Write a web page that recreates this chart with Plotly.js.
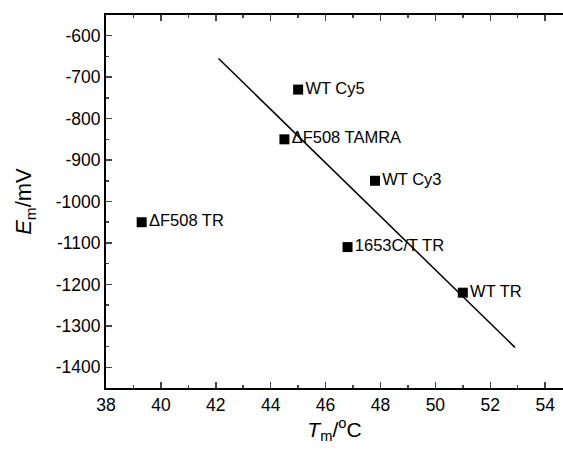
<!DOCTYPE html>
<html>
<head>
<meta charset="utf-8">
<script src="https://cdn.plot.ly/plotly-3.0.1.min.js"></script>
<style>html,body{margin:0;padding:0;background:#fff;}#chart{width:563px;height:450px;}</style>
</head>
<body>
<div id="chart"></div>
<script>
const labels = ["WT Cy5", "\u0394F508 TAMRA", "WT Cy3", "\u0394F508 TR", "1653C/T TR", "WT TR"];
const tm = [45.0, 44.5, 47.8, 39.3, 46.8, 51.0];
const em = [-730, -850, -950, -1050, -1110, -1220];
const fitX = [42.1, 52.9];
const fitY = [-655, -1352];
const xTicks = [38, 40, 42, 44, 46, 48, 50, 52, 54];
const yTicks = [-600, -700, -800, -900, -1000, -1100, -1200, -1300, -1400];
const yTickText = ["-600", "-700", "-800", "-900", "-1000", "-1100", "-1200", "-1300", "-1400"];

const font = {family: "Liberation Sans, Arial, sans-serif", color: "#000"};

const traces = [
  {x: fitX, y: fitY, mode: "lines", line: {color: "#000", width: 1.5}, hoverinfo: "skip"},
  {x: tm, y: em, mode: "markers+text", text: labels, textposition: "middle right",
   textfont: {family: font.family, size: 16.5, color: "#000"},
   marker: {symbol: "square", size: 10, color: "#000"}}
];

const layout = {
  width: 563, height: 450,
  margin: {l: 106, r: 0, t: 15, b: 62},
  showlegend: false,
  paper_bgcolor: "#fff", plot_bgcolor: "#fff",
  font: font,
  xaxis: {
    range: [38, 54.65], tickvals: xTicks, ticks: "inside", ticklen: 6, tickwidth: 1.5,
    minor: {dtick: 1, ticks: "inside", ticklen: 3, tickwidth: 1.5},
    showline: true, linewidth: 2, linecolor: "#000", mirror: "ticks",
    showgrid: false, zeroline: false,
    tickfont: {family: font.family, size: 17.5, color: "#000"},
    title: {text: "<i>T</i><sub>m</sub>/<sup>o</sup>C", font: {family: font.family, size: 21, color: "#000"}, standoff: 2}
  },
  yaxis: {
    range: [-1450, -550], tickvals: yTicks, ticktext: yTickText, ticks: "inside", ticklen: 6, tickwidth: 1.5,
    minor: {dtick: 50, ticks: "inside", ticklen: 3, tickwidth: 1.5},
    showline: true, linewidth: 2, linecolor: "#000", mirror: false,
    showgrid: false, zeroline: false,
    tickfont: {family: font.family, size: 17.5, color: "#000"},
    title: {text: "<i>E</i><sub>m</sub>/mV", font: {family: font.family, size: 22, color: "#000"}, standoff: 18}
  }
};

Plotly.newPlot("chart", traces, layout, {displayModeBar: false, staticPlot: true});
</script>
</body>
</html>
